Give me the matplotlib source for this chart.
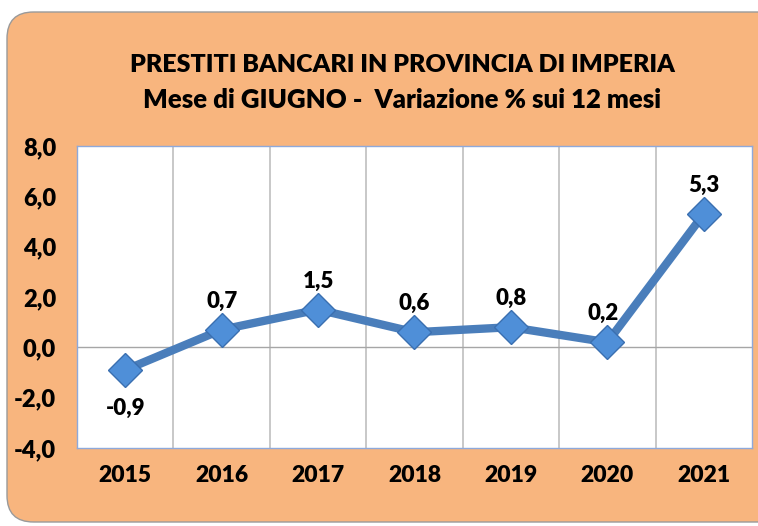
import matplotlib
matplotlib.use("Agg")
import matplotlib.pyplot as plt
from matplotlib.patches import FancyBboxPatch

years = ["2015", "2016", "2017", "2018", "2019", "2020", "2021"]
values = [-0.9, 0.7, 1.5, 0.6, 0.8, 0.2, 5.3]
labels = ["-0,9", "0,7", "1,5", "0,6", "0,8", "0,2", "5,3"]
yticks = [-4, -2, 0, 2, 4, 6, 8]
ytick_labels = ["-4,0", "-2,0", "0,0", "2,0", "4,0", "6,0", "8,0"]
title_lines = ["PRESTITI BANCARI IN PROVINCIA DI IMPERIA",
               "Mese di GIUGNO -  Variazione % sui 12 mesi"]

plt.rcParams['font.family'] = ['Lato', 'DejaVu Sans']
W, H = 758, 526
fig = plt.figure(figsize=(W/100, H/100), dpi=100)
fig.patch.set_facecolor("white")

orange = "#F8B57E"
box = FancyBboxPatch((7/W, 4/H), (W+40)/W, 510/H,
                     boxstyle="round,pad=0,rounding_size=0.035",
                     transform=fig.transFigure, facecolor=orange,
                     edgecolor="#9a9a9a", linewidth=1.0, mutation_aspect=W/H,
                     zorder=-10)
fig.patches.append(box)

fig.text(402/W, 1-65/H, title_lines[0], ha="center", va="center",
         fontsize=18, fontweight="heavy")
fig.text(402/W, 1-100/H, title_lines[1], ha="center", va="center",
         fontsize=18.5, fontweight="heavy")

ax = fig.add_axes([77/W, 1-448/H, (752-77)/W, (448-146)/H])
ax.set_zorder(5)
ax.set_facecolor("white")
x = list(range(len(years)))
ax.plot(x, values, color="#4A7EBB", linewidth=6, zorder=3,
        marker="D", markersize=17, markerfacecolor="#4F8FD8",
        markeredgecolor="#3A6FB0", markeredgewidth=1)
ax.set_xlim(-0.5, len(years)-0.5)
ax.set_ylim(-4, 8)
ax.set_yticks(yticks)
ax.set_yticklabels(ytick_labels, fontsize=17, fontweight="heavy")
ax.set_xticks(x)
ax.set_xticklabels(years, fontsize=16.5, fontweight="heavy")
ax.tick_params(axis="both", length=0)
ax.tick_params(axis="y", pad=15)
ax.tick_params(axis="x", pad=12)
for b in [i + 0.5 for i in range(len(years)-1)]:
    ax.axvline(b, color="#BFBFBF", linewidth=1.2, zorder=1)
ax.axhline(0, color="#A6A6A6", linewidth=1.0, zorder=1)
for s in ax.spines.values():
    s.set_color("#8EA9DB")
    s.set_linewidth(1.0)

for xi, v, lab in zip(x, values, labels):
    if v < 0:
        ax.annotate(lab, (xi, v), xytext=(0, -20), textcoords="offset points",
                    ha="center", va="top", fontsize=16, fontweight="heavy")
    else:
        ax.annotate(lab, (xi, v), xytext=(-3 if xi == 5 else 0, 13),
                    textcoords="offset points",
                    ha="center", va="bottom", fontsize=16, fontweight="heavy")

fig.savefig("out.png", dpi=100)
